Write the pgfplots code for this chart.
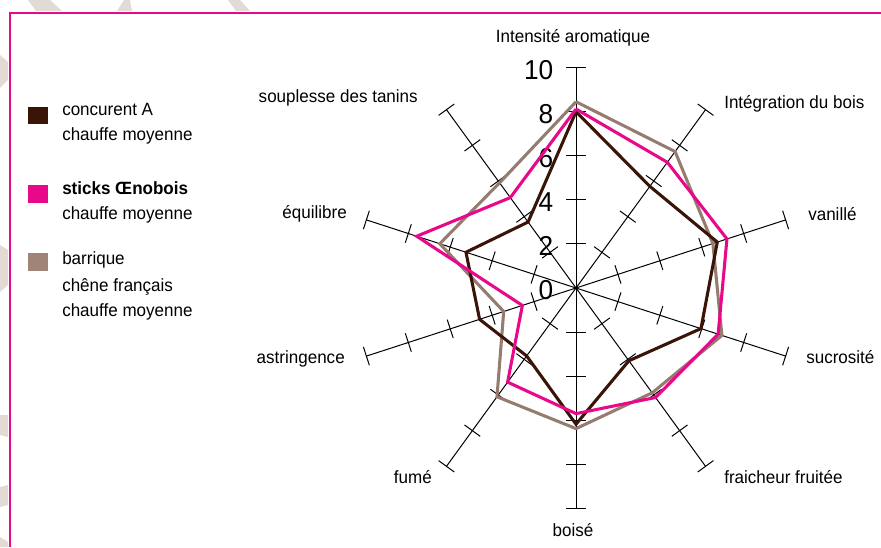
\documentclass[border=0pt]{standalone}
\usepackage{pgfplots}
\pgfplotsset{compat=1.18}
\usepackage{fontspec}
\setmainfont{Liberation Sans}[FakeStretch=0.96]
\definecolor{cdark}{HTML}{3B1408}
\definecolor{cpink}{HTML}{E8088A}
\definecolor{cbarr}{HTML}{957B70}
\definecolor{cbarrsq}{HTML}{A08478}
\definecolor{cdeco}{HTML}{E2DAD5}
\begin{document}
\begin{tikzpicture}
\useasboundingbox (0,0) rectangle (660.75pt,410.25pt);
% ---------- pixel scope (origin top-left) ----------
\begin{scope}[shift={(0pt,410.25pt)}, x=0.75pt, y=-0.75pt]
  % decorative grey shapes outside frame
  \fill[cdeco] (28,0) -- (50,0) -- (62,11) -- (36,11) -- cycle;
  \fill[cdeco] (117,11) -- (124,0) -- (130,0) -- (132,11) -- cycle;
  \fill[cdeco] (228,0) -- (240,0) -- (250,11) -- (236,11) -- cycle;
  \fill[cdeco] (0,55) -- (8,62) -- (8,80) -- (0,88) -- cycle;
  \fill[cdeco] (0,245) -- (8,250) -- (8,285) -- (0,292) -- cycle;
  \fill[cdeco] (0,415) -- (8,415) -- (8,437) -- (0,435) -- cycle;
  \fill[cdeco] (0,487) -- (8,485) -- (8,505) -- (0,507) -- cycle;
  \fill[cdeco] (0,537) -- (8,542) -- (8,547) -- (0,547) -- cycle;
  % frame
  \draw[cpink, line width=1.6pt] (10.3,547) -- (10.3,13) -- (881,13);
  % legend
  \fill[cdark] (28,107) rectangle (48,124);
  \fill[cpink] (28,185) rectangle (48,203);
  \fill[cbarrsq] (28,253) rectangle (48,271);
  \begin{scope}[every node/.style={anchor=base west, inner sep=0pt, font=\fontsize{13.3pt}{15pt}\selectfont}]
    \node at (62,116) {concurent A};
    \node at (62,141) {chauffe moyenne};
    \node at (62,195) {\bfseries sticks Œnobois};
    \node at (62,220) {chauffe moyenne};
    \node at (62,265) {barrique};
    \node at (62,291.5) {chêne français};
    \node at (62,316.5) {chauffe moyenne};
  \end{scope}
  % category labels
  \begin{scope}[every node/.style={inner sep=0pt, font=\fontsize{13.3pt}{15pt}\selectfont}]
    \node[anchor=base] at (573,43) {Intensité aromatique};
    \node[anchor=base west] at (724,109) {Intégration du bois};
    \node[anchor=base west] at (808,221) {vanillé};
    \node[anchor=base west] at (806,363) {sucrosité};
    \node[anchor=base west] at (724,483) {fraicheur fruitée};
    \node[anchor=base] at (573,536) {boisé};
    \node[anchor=base east] at (432,483) {fumé};
    \node[anchor=base east] at (345,363) {astringence};
    \node[anchor=base east] at (347,219) {équilibre};
    \node[anchor=base east] at (418,103) {souplesse des tanins};
  \end{scope}
\end{scope}
% ---------- radar frame (spokes and ticks) ----------
\begin{scope}[shift={(432pt,194.25pt)}, x=16.53pt, y=16.53pt]
  \foreach \a in {90,54,18,-18,-54,-90,-126,-162,162,126} {
    \draw[line width=0.75pt] (0,0) -- (\a:10);
    \foreach \r in {2,4,6,8,10}
      \draw[line width=0.75pt, rotate=\a] (\r,-0.44) -- (\r,0.44);
  }
  \foreach \r in {0,2,4,6,8,10}
    \node[anchor=base east, inner sep=0pt, font=\fontsize{20.5pt}{22pt}\selectfont] at (-1.02,\r-0.52) {\r};
\end{scope}
% ---------- data ----------
\begin{axis}[at={(0pt,0pt)}, anchor=south west, scale only axis,
  width=660.75pt, height=410.25pt,
  xmin=-26.134, xmax=13.838, ymin=-11.751, ymax=13.067,
  hide axis, clip=false]
  \addplot[cbarr, line width=2.3pt, data cs=polar] coordinates {
    (90,8.45) (54,7.65) (18,6.53) (-18,6.96) (-54,5.88) (-90,6.38)
    (-126,6.1) (-162,3.45) (162,6.5) (126,5.9) (90,8.45)};
  \addplot[cdark, line width=2.3pt, data cs=polar] coordinates {
    (90,8.0) (54,5.7) (18,6.74) (-18,5.96) (-54,4.08) (-90,6.18)
    (-126,3.81) (-162,4.6) (162,5.25) (126,3.7) (90,8.0)};
  \addplot[cpink, line width=2.3pt, data cs=polar] coordinates {
    (90,8.12) (54,7.05) (18,7.2) (-18,6.78) (-54,6.14) (-90,5.7)
    (-126,5.28) (-162,2.56) (162,7.6) (126,5.07) (90,8.12)};
\end{axis}
\end{tikzpicture}
\end{document}
